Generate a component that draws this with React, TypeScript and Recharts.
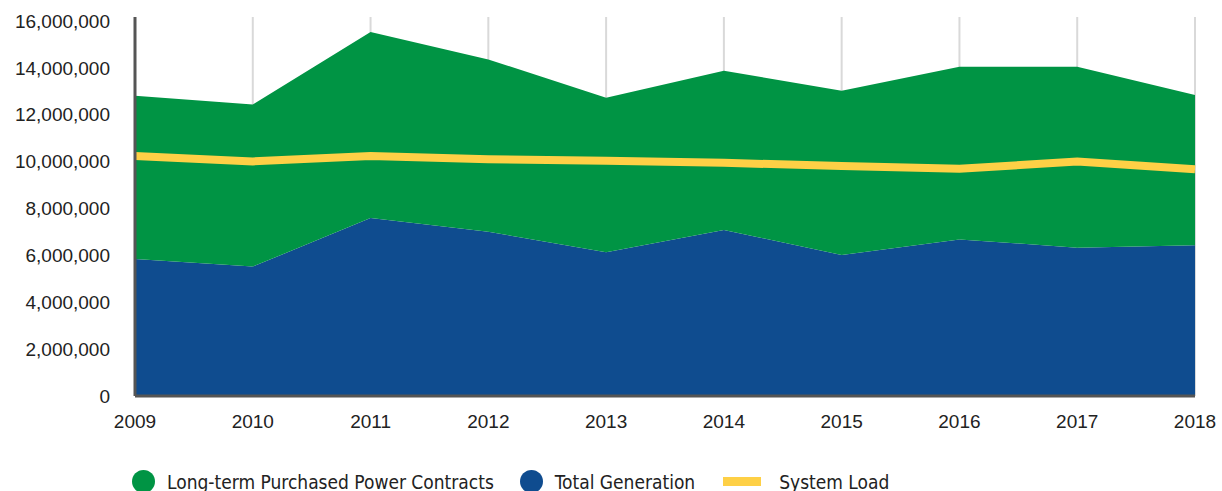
// App.tsx
// Generation vs purchased power vs system load, 2009-2018 (MWh).
// Stacked areas for the supply side, a thick yellow line for load.

import { ComposedChart, Area, Line, XAxis, YAxis, CartesianGrid } from "recharts";

const years = ["2009", "2010", "2011", "2012", "2013", "2014", "2015", "2016", "2017", "2018"];
const totalGeneration = [5840000, 5520000, 7590000, 7010000, 6130000, 7080000, 6020000, 6680000, 6330000, 6430000];
const purchasedPower = [6970000, 6920000, 7940000, 7350000, 6600000, 6800000, 7000000, 7370000, 7720000, 6410000];
const systemLoad = [10240000, 10010000, 10240000, 10100000, 10040000, 9950000, 9810000, 9700000, 10000000, 9670000];
const yTicks = [0, 2000000, 4000000, 6000000, 8000000, 10000000, 12000000, 14000000, 16000000];

const GREEN = "#009444";
const BLUE = "#0f4c8f";
const YELLOW = "#fed046";

const data = years.map((y, i) => ({
  year: y,
  generation: totalGeneration[i],
  purchased: purchasedPower[i],
  load: systemLoad[i],
}));

const legendItems = [
  { label: "Long-term Purchased Power Contracts", color: GREEN, shape: "circle" },
  { label: "Total Generation", color: BLUE, shape: "circle" },
  { label: "System Load", color: YELLOW, shape: "rect" },
];

const fmt = (v: number) => v.toLocaleString("en-US");

const tickFont = { fontSize: 19, fontFamily: "'Liberation Sans', Arial, sans-serif", fill: "#222" };

export default function App() {
  return (
    <div style={{ position: "absolute", left: 0, top: 0, width: 1222, height: 491, background: "#fff", overflow: "hidden" }}>
      <ComposedChart width={1222} height={491} data={data} margin={{ top: 17, right: 27, left: 0, bottom: 65 }}>
        <CartesianGrid horizontal={false} stroke="#d9d9d9" strokeWidth={2} />
        <XAxis
          dataKey="year"
          scale="point"
          padding={{ left: 0, right: 0 }}
          axisLine={{ stroke: "#555", strokeWidth: 3 }}
          tickLine={false}
          tickSize={0}
          tickMargin={19}
          tick={tickFont}
          interval={0}
        />
        <YAxis
          width={135}
          domain={[0, 16170000]}
          ticks={yTicks}
          tickFormatter={fmt}
          axisLine={{ stroke: "#555", strokeWidth: 3 }}
          tickLine={false}
          tickSize={0}
          tickMargin={25}
          tick={tickFont}
          allowDataOverflow
        />
        <Area
          type="linear"
          dataKey="generation"
          stackId="supply"
          fill={BLUE}
          fillOpacity={1}
          stroke="none"
          isAnimationActive={false}
        />
        <Area
          type="linear"
          dataKey="purchased"
          stackId="supply"
          fill={GREEN}
          fillOpacity={1}
          stroke="none"
          isAnimationActive={false}
        />
        <Line
          type="linear"
          dataKey="load"
          stroke={YELLOW}
          strokeWidth={8}
          dot={false}
          activeDot={false}
          isAnimationActive={false}
        />
      </ComposedChart>
      <div
        style={{
          position: "absolute",
          left: 132,
          top: 470,
          display: "flex",
          alignItems: "center",
          fontFamily: "'DejaVu Sans Condensed', 'Liberation Sans', sans-serif",
          fontSize: 19,
          color: "#222",
          whiteSpace: "nowrap",
        }}
      >
        {legendItems.map((it) => (
          <div key={it.label} style={{ display: "flex", alignItems: "center", marginRight: 26 }}>
            {it.shape === "circle" ? (
              <span style={{ width: 23, height: 23, borderRadius: "50%", background: it.color, marginRight: 12 }} />
            ) : (
              <span style={{ width: 38, height: 9, background: it.color, marginLeft: 2, marginRight: 18 }} />
            )}
            <span>{it.label}</span>
          </div>
        ))}
      </div>
    </div>
  );
}
